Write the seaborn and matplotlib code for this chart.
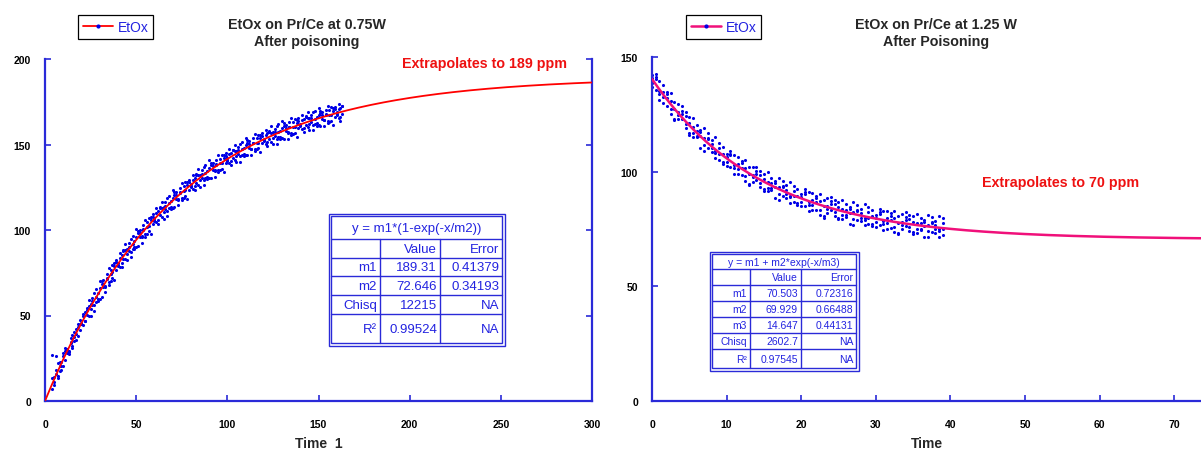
import numpy as np
import pandas as pd
import matplotlib
matplotlib.use("Agg")
import matplotlib.pyplot as plt
from matplotlib.lines import Line2D
from matplotlib.patches import Rectangle
import seaborn as sns

# ---------------- data ----------------
x_left = list(range(4, 164))
y_left_a = [26.8, 11.1, 18.4, 14.6, 20.3, 18.2, 26.1, 30.8, 28.1, 28.8, 34.3, 30.9, 40.3, 39.2, 45.3, 41.7, 45.9, 44.4, 51.9, 50.1,
            55.3, 53.6, 60.3, 55.9, 61.1, 58.3, 65.8, 69.9, 66.7, 66.8, 71.8, 68.0, 76.9, 75.2, 80.8, 76.7, 80.6, 78.5, 85.6, 83.3,
            88.1, 85.9, 92.2, 87.3, 92.1, 88.9, 96.0, 99.7, 96.0, 95.8, 100.3, 96.1, 104.6, 102.6, 107.7, 103.3, 106.8, 104.4, 111.1, 108.5,
            112.9, 110.4, 116.3, 111.2, 115.6, 112.2, 118.9, 122.3, 118.3, 117.8, 122.1, 117.5, 125.7, 123.4, 128.3, 123.6, 126.8, 124.1, 130.6, 127.7,
            131.9, 129.1, 134.8, 129.4, 133.6, 129.8, 136.3, 139.4, 135.2, 134.5, 138.5, 133.7, 141.7, 139.1, 143.8, 138.9, 141.9, 139.0, 145.3, 142.2,
            146.2, 143.2, 148.7, 143.1, 147.1, 143.2, 149.5, 152.4, 148.1, 147.1, 151.0, 146.0, 153.8, 151.1, 155.7, 150.6, 153.4, 150.4, 156.5, 153.2,
            157.0, 153.9, 159.3, 153.5, 157.4, 153.3, 159.5, 162.3, 157.8, 156.8, 160.5, 155.4, 163.1, 160.3, 164.6, 159.4, 162.1, 159.0, 165.0, 161.6,
            165.3, 162.1, 167.3, 161.5, 165.2, 161.1, 167.1, 169.8, 165.2, 164.1, 167.7, 162.5, 170.1, 167.2, 171.5, 166.2, 168.8, 165.6, 171.4, 168.0]
y_left_b = [6.9, 14.3, 26.2, 22.0, 17.3, 23.0, 20.2, 29.2, 30.1, 29.3, 37.0, 32.4, 37.6, 35.9, 43.5, 47.6, 45.0, 49.7, 46.8, 54.4,
            50.0, 56.8, 56.1, 63.3, 58.1, 63.1, 59.9, 68.3, 68.7, 67.3, 74.5, 69.5, 74.2, 71.9, 79.0, 82.6, 79.7, 83.8, 80.5, 87.6,
            82.8, 89.1, 88.0, 94.7, 89.1, 93.7, 90.1, 98.1, 98.0, 96.3, 103.0, 97.6, 101.9, 99.3, 105.9, 109.2, 105.9, 109.7, 106.0, 112.8,
            107.6, 113.6, 112.1, 118.6, 112.6, 117.0, 113.0, 120.7, 120.3, 118.3, 124.8, 119.0, 123.0, 120.1, 126.5, 129.5, 125.9, 129.4, 125.5, 132.0,
            126.6, 132.3, 130.6, 136.8, 130.6, 134.6, 130.4, 137.8, 137.2, 135.0, 141.2, 135.2, 139.0, 135.8, 142.0, 144.8, 141.0, 144.3, 140.2, 146.5,
            140.9, 146.4, 144.5, 150.5, 144.1, 148.0, 143.6, 150.8, 150.1, 147.6, 153.7, 147.5, 151.1, 147.8, 153.9, 156.5, 152.5, 155.7, 151.4, 157.5,
            151.7, 157.1, 155.1, 160.9, 154.4, 158.1, 153.6, 160.7, 159.8, 157.3, 163.2, 156.9, 160.4, 157.0, 162.8, 165.3, 161.2, 164.3, 159.9, 165.9,
            160.0, 165.3, 163.1, 168.9, 162.2, 165.9, 161.2, 168.2, 167.2, 164.6, 170.4, 164.0, 167.4, 163.9, 169.7, 172.1, 167.9, 170.9, 166.3, 172.3]
y_left_c = [13.6, 9.5, 15.8, 13.7, 22.6, 20.5, 28.1, 23.8, 30.7, 27.7, 33.7, 38.6, 35.1, 42.1, 37.8, 45.2, 44.8, 50.6, 46.5, 53.5,
            59.0, 49.9, 58.3, 52.6, 65.4, 59.5, 70.3, 61.1, 70.5, 63.5, 71.5, 77.9, 70.2, 79.8, 70.7, 81.2, 79.1, 86.7, 78.2, 88.1,
            91.8, 82.2, 90.2, 84.0, 96.4, 90.1, 100.5, 90.9, 99.8, 92.5, 100.0, 106.0, 97.9, 107.2, 97.6, 107.8, 105.3, 112.6, 103.7, 113.3,
            116.6, 106.7, 114.3, 107.9, 119.9, 113.4, 123.4, 113.5, 122.1, 114.5, 121.8, 127.4, 119.0, 128.0, 118.2, 128.1, 125.3, 132.3, 123.2, 132.5,
            135.6, 125.4, 132.8, 126.1, 137.9, 131.0, 140.8, 130.6, 139.0, 131.2, 138.2, 143.6, 135.0, 143.7, 133.7, 143.4, 140.4, 147.2, 137.9, 147.0,
            149.9, 139.5, 146.7, 139.8, 151.4, 144.4, 154.0, 143.6, 151.9, 143.8, 150.7, 155.9, 147.1, 155.7, 145.6, 155.1, 151.9, 158.6, 149.1, 158.0,
            160.7, 150.2, 157.3, 150.2, 161.7, 154.5, 164.0, 153.5, 161.6, 153.5, 160.2, 165.3, 156.4, 164.9, 154.5, 163.9, 160.6, 167.2, 157.6, 166.4,
            169.0, 158.4, 165.3, 158.2, 169.5, 162.3, 171.6, 161.0, 169.0, 160.8, 167.4, 172.4, 163.4, 171.8, 161.4, 170.7, 167.3, 173.8, 164.0, 172.8]

x_right = [0, 0.5, 1, 1.5, 2, 2.5, 3, 3.5, 4, 4.5, 5, 5.5, 6, 6.5, 7, 7.5, 8, 8.5, 9, 9.5,
           10, 10.5, 11, 11.5, 12, 12.5, 13, 13.5, 14, 14.5, 15, 15.5, 16, 16.5, 17, 17.5, 18, 18.5, 19, 19.5,
           20, 20.5, 21, 21.5, 22, 22.5, 23, 23.5, 24, 24.5, 25, 25.5, 26, 26.5, 27, 27.5, 28, 28.5, 29, 29.5,
           30, 30.5, 31, 31.5, 32, 32.5, 33, 33.5, 34, 34.5, 35, 35.5, 36, 36.5, 37, 37.5, 38, 38.5, 39]
y_right_a = [142.2, 135.5, 139.7, 132.5, 132.0, 125.2, 130.2, 124.7, 128.5, 118.9, 121.4, 116.8, 120.2, 110.5, 114.6, 114.7, 108.6, 114.9, 107.9, 103.4,
             107.6, 102.1, 107.4, 101.2, 101.8, 96.0, 102.0, 97.5, 102.2, 93.4, 96.8, 93.0, 97.3, 88.3, 93.1, 93.9, 88.6, 95.5, 89.2, 85.3,
             90.2, 85.2, 91.1, 85.5, 86.6, 81.3, 87.8, 83.7, 88.9, 80.6, 84.4, 81.0, 85.7, 77.1, 82.3, 83.4, 78.4, 85.7, 79.8, 76.2,
             81.3, 76.6, 82.8, 77.5, 78.9, 73.9, 80.6, 76.8, 82.2, 74.1, 78.1, 74.9, 79.8, 71.4, 76.8, 78.1, 73.3, 80.8, 75.0]
y_right_b = [136.9, 140.5, 135.2, 137.8, 128.6, 131.0, 122.9, 125.9, 126.6, 120.6, 123.8, 115.3, 117.8, 117.1, 111.8, 116.9, 110.2, 105.8, 110.3, 107.7,
             102.3, 107.1, 102.9, 106.5, 98.4, 101.8, 94.7, 98.7, 100.3, 95.1, 99.2, 91.5, 94.9, 94.9, 90.3, 96.1, 90.2, 86.4, 91.6, 89.6,
             84.9, 90.2, 86.6, 90.8, 83.2, 87.1, 80.5, 84.9, 87.0, 82.3, 86.8, 79.5, 83.3, 83.7, 79.5, 85.6, 80.0, 76.6, 82.2, 80.5,
             76.0, 81.6, 78.3, 82.8, 75.5, 79.7, 73.3, 78.0, 80.3, 75.8, 80.5, 73.4, 77.4, 78.0, 74.0, 80.3, 74.9, 71.7, 77.4]
y_right_c = [140.8, 141.3, 133.9, 130.1, 133.8, 134.2, 127.3, 122.8, 125.3, 125.9, 116.2, 119.4, 115.6, 118.0, 118.9, 110.2, 112.1, 109.0, 105.3, 110.6,
             106.2, 107.9, 101.6, 98.8, 103.6, 105.0, 99.1, 95.6, 99.0, 100.4, 91.6, 95.6, 92.7, 95.8, 97.4, 89.4, 92.1, 89.6, 86.6, 92.5,
             88.8, 91.0, 85.3, 83.1, 88.4, 90.3, 84.9, 81.8, 85.7, 87.6, 79.2, 83.6, 81.1, 84.6, 86.6, 78.9, 81.9, 79.8, 77.2, 83.4,
             79.9, 82.4, 77.0, 75.1, 80.7, 82.9, 77.7, 74.9, 79.0, 81.1, 72.9, 77.5, 75.2, 78.9, 81.1, 73.6, 76.8, 74.9, 72.4]
y_right_d = [138.8, 142.6, 131.4, 134.7, 134.9, 127.3, 122.4, 129.4, 122.8, 124.1, 116.9, 123.5, 114.9, 115.5, 109.2, 114.1, 114.0, 108.2, 112.6, 104.3,
             104.2, 109.2, 99.1, 103.4, 104.7, 98.1, 94.2, 102.2, 96.5, 98.6, 92.3, 99.7, 92.0, 93.3, 87.7, 93.3, 94.0, 88.8, 93.9, 86.2,
             86.8, 92.3, 82.8, 87.7, 89.5, 83.4, 80.0, 88.4, 83.2, 85.8, 79.9, 87.7, 80.4, 82.1, 76.9, 82.8, 83.8, 79.0, 84.5, 77.1,
             77.9, 83.7, 74.5, 79.7, 81.8, 76.0, 72.8, 81.5, 76.5, 79.3, 73.6, 81.6, 74.5, 76.4, 71.4, 77.5, 78.7, 74.1, 79.7]

# fitted parameters shown in the tables
left_m1, left_m2 = 189.31, 72.646
right_m1, right_m2, right_m3 = 70.503, 69.929, 14.647

left_table = [["y = m1*(1-exp(-x/m2))"],
              ["", "Value", "Error"],
              ["m1", "189.31", "0.41379"],
              ["m2", "72.646", "0.34193"],
              ["Chisq", "12215", "NA"],
              ["R²", "0.99524", "NA"]]
right_table = [["y = m1 + m2*exp(-x/m3)"],
               ["", "Value", "Error"],
               ["m1", "70.503", "0.72316"],
               ["m2", "69.929", "0.66488"],
               ["m3", "14.647", "0.44131"],
               ["Chisq", "2602.7", "NA"],
               ["R²", "0.97545", "NA"]]

left_xticks = [0, 50, 100, 150, 200, 250, 300]
left_yticks = [0, 50, 100, 150, 200]
right_xticks = [0, 10, 20, 30, 40, 50, 60, 70]
right_yticks = [0, 50, 100, 150]

assert len(x_left) == len(y_left_a) == len(y_left_b) == len(y_left_c)
assert len(x_right) == len(y_right_a) == len(y_right_b) == len(y_right_c) == len(y_right_d)

# ---------------- style ----------------
sns.set_theme(style="white")
plt.rcParams['font.family'] = ['Liberation Sans', 'DejaVu Sans']

W, H = 1201, 452
BLUE_AX = "#2a2ad8"
BLUE_PT = "#0000e6"
BLUE_TX = "#2323e0"
RED = "#ff0000"
PINK = "#f0107a"

fig = plt.figure(figsize=(W / 100, H / 100), dpi=100)


def px_axes(x0, x1, ytop, ybot, **kw):
    return fig.add_axes([x0 / W, 1 - ybot / H, (x1 - x0) / W, (ybot - ytop) / H], **kw)


axL = px_axes(45, 592, 60, 402)
axR = px_axes(652, 1201, 58, 402)

# left panel
dfL = pd.DataFrame({"t": x_left * 3, "c": y_left_a + y_left_b + y_left_c})
sns.scatterplot(data=dfL, x="t", y="c", ax=axL, marker="o", s=5, color=BLUE_PT,
                linewidth=0, zorder=2)
tfL = np.linspace(0, 300, 400)
sns.lineplot(x=tfL, y=left_m1 * (1 - np.exp(-tfL / left_m2)), ax=axL, color=RED,
             linewidth=1.3, zorder=3)

# right panel
dfR = pd.DataFrame({"t": x_right * 4, "c": y_right_a + y_right_b + y_right_c + y_right_d})
sns.scatterplot(data=dfR, x="t", y="c", ax=axR, marker="o", s=5, color=BLUE_PT,
                linewidth=0, zorder=2)
tfR = np.linspace(0, 80, 400)
sns.lineplot(x=tfR, y=right_m1 + right_m2 * np.exp(-tfR / right_m3), ax=axR, color=PINK,
             linewidth=1.8, zorder=3)

axL.set_xlim(0, 300)
axL.set_ylim(0, 200)
axR.set_xlim(0, 73.6)
axR.set_ylim(0, 150)
axL.set_xticks(left_xticks)
axL.set_yticks(left_yticks)
axR.set_xticks(right_xticks)
axR.set_yticks(right_yticks)

for ax, has_right in ((axL, True), (axR, False)):
    ax.set_facecolor("none")
    ax.spines["top"].set_visible(False)
    ax.spines["right"].set_visible(has_right)
    for s in ("left", "bottom", "right"):
        ax.spines[s].set_color(BLUE_AX)
        ax.spines[s].set_linewidth(1.6)
    ax.tick_params(axis="both", direction="in", length=4.5, width=1.2, color=BLUE_AX,
                   labelsize=7.5, labelcolor="black", left=True, bottom=True,
                   right=has_right, labelright=False)
    ax.tick_params(axis="x", pad=13)
    ax.tick_params(axis="y", pad=10)
    for lab in ax.get_xticklabels() + ax.get_yticklabels():
        lab.set_fontweight("bold")
    ax.grid(False)

axL.set_xlabel("Time  1", fontsize=10, fontweight="bold", labelpad=5)
axR.set_xlabel("Time", fontsize=10, fontweight="bold", labelpad=5)
axL.set_ylabel("")
axR.set_ylabel("")

# overlay in pixel coordinates for titles, notes, tables
ov = fig.add_axes([0, 0, 1, 1], zorder=10)
ov.set_xlim(0, W)
ov.set_ylim(H, 0)
ov.axis("off")
ov.patch.set_alpha(0)

ov.text(307, 33.5, "EtOx on Pr/Ce at 0.75W\nAfter poisoning", ha="center", va="center",
        fontsize=10.3, fontweight="bold", linespacing=1.35)
ov.text(936, 33.5, "EtOx on Pr/Ce at 1.25 W\nAfter Poisoning", ha="center", va="center",
        fontsize=10.3, fontweight="bold", linespacing=1.35)
ov.text(485, 64, "Extrapolates to 189 ppm", ha="center", va="center", color="#ee1111",
        fontsize=10.3, fontweight="bold")
ov.text(1061, 183, "Extrapolates to 70 ppm", ha="center", va="center", color="#ee1111",
        fontsize=10.3, fontweight="bold")


def draw_table(rows, cols, data, fs):
    x0, x1 = cols[0], cols[-1]
    y0, y1 = rows[0], rows[-1]
    ov.add_patch(Rectangle((x0 - 2.5, y0 - 2.5), x1 - x0 + 5, y1 - y0 + 5, fill=False,
                           edgecolor=BLUE_AX, linewidth=1.0))
    ov.add_patch(Rectangle((x0, y0), x1 - x0, y1 - y0, fill=False,
                           edgecolor=BLUE_AX, linewidth=1.0))
    for r in rows[1:-1]:
        ov.plot([x0, x1], [r, r], color=BLUE_AX, linewidth=1.0)
    for c in cols[1:-1]:
        ov.plot([c, c], [rows[1], y1], color=BLUE_AX, linewidth=1.0)
    ov.text((x0 + x1) / 2, (rows[0] + rows[1]) / 2 + 0.5, data[0][0], ha="center",
            va="center", color=BLUE_TX, fontsize=fs)
    for i, row in enumerate(data[1:], start=1):
        yc = (rows[i] + rows[i + 1]) / 2 + 0.5
        for j, txt in enumerate(row):
            ov.text(cols[j + 1] - 3, yc, txt, ha="right", va="center", color=BLUE_TX,
                    fontsize=fs)


draw_table([217, 240, 259, 277, 296, 315, 344], [331, 380, 440, 502], left_table, 9.5)
draw_table([255, 270, 286, 302, 318, 334, 350, 369], [712, 750, 801, 856], right_table, 7.5)

# legends
hL = Line2D([0], [0], color=RED, linewidth=1.3, marker="o", markersize=2.0,
            markerfacecolor=BLUE_PT, markeredgecolor=BLUE_PT)
hR = Line2D([0], [0], color=PINK, linewidth=1.8, marker="o", markersize=2.0,
            markerfacecolor=BLUE_PT, markeredgecolor=BLUE_PT)
for h, x0 in ((hL, 78), (hR, 686)):
    leg = fig.legend(handles=[h], labels=["EtOx"], loc="upper left",
                     bbox_to_anchor=(x0 / W, 1 - 16 / H), bbox_transform=fig.transFigure,
                     frameon=True, fancybox=False, edgecolor="black", framealpha=1,
                     fontsize=10, handlelength=2.2, handletextpad=0.3, borderpad=0.35,
                     borderaxespad=0, numpoints=1, labelcolor=BLUE_TX)
    leg.get_frame().set_linewidth(0.9)

fig.savefig("out.png", dpi=100)
